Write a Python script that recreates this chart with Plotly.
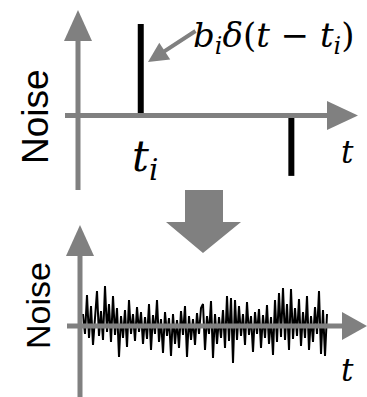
import plotly.graph_objects as go

# ---- data ----
spike_times = [2.5, 8.5]          # t_i
spike_amps = [1.0, -0.66]         # b_i
noise = [12, -8, 31, -12, 20, -19, 8, 35, -10, 15,
         -14, 40, -6, 22, -16, 30, -9, 18, -31, 10,
         -12, 16, -21, 26, -8, 12, -15, 19, -6, 14,
         -18, 9, -13, 22, -24, 11, -8, 26, -16, 7,
         -27, 14, -10, 8, -30, 12, -18, 6, -22, 15,
         -9, 20, -31, 10, -14, 7, -19, 13, -8, 18,
         22, -24, 10, -8, 25, -32, 12, -18, 9, -12,
         16, -22, 30, -15, 28, -37, 26, -14, 20, -10,
         12, -19, 24, -9, 10, -26, 14, -8, 17, -22,
         11, -12, 21, -18, 9, -29, 26, -16, 33, -11,
         38, -14, 22, -24, 37, -13, 18, -10, 27, -20,
         14, -12, 30, -24, 10, -16, 19, -8, 35, -28,
         16, -30, 12]
noise_t = list(range(len(noise)))

W, H = 367, 397
GRAY = "#808080"

def P(px, py):
    return px / W, 1 - py / H

fig = go.Figure()

# top panel: impulses
sx, sy = [], []
for t, b in zip(spike_times, spike_amps):
    sx += [t, t, None]
    sy += [0, b, None]
fig.add_trace(go.Scatter(x=sx, y=sy, mode="lines", line=dict(color="black", width=6),
                         xaxis="x", yaxis="y", showlegend=False, hoverinfo="skip"))
# bottom panel: noise
fig.add_trace(go.Scatter(x=noise_t, y=noise, mode="lines", line=dict(color="black", width=2),
                         xaxis="x2", yaxis="y2", showlegend=False, hoverinfo="skip"))

# axis geometry (pixels)
top_ox, top_oy, kx_top, ky_top = 78, 115.5, 25.1, 91.5
bot_ox, bot_oy = 83, 326

shapes = []
def line(x0, y0, x1, y1, w=5):
    a, b = P(x0, y0); c, d = P(x1, y1)
    shapes.append(dict(type="line", xref="paper", yref="paper", x0=a, y0=b, x1=c, y1=d,
                       line=dict(color=GRAY, width=w), layer="above"))
def poly(pts):
    path = "M " + " L ".join(f"{P(x, y)[0]:.5f},{P(x, y)[1]:.5f}" for x, y in pts) + " Z"
    shapes.append(dict(type="path", xref="paper", yref="paper", path=path,
                       fillcolor=GRAY, line=dict(width=0), layer="above"))

# top axes
line(78, 190, 78, 38)
poly([(64, 41), (92, 41), (78, 10)])
line(65, 115.5, 329, 115.5)
poly([(327, 101), (327, 130), (358, 115.5)])
# bottom axes
line(80, 397, 80, 253)
poly([(66, 256), (94, 256), (80, 225)])
line(67, 326, 344, 326)
poly([(342, 312), (342, 340), (367, 326)])
# big down arrow
poly([(185, 190), (223, 190), (223, 222), (241, 222), (203, 253), (166, 222), (185, 222)])

def ann(text, px, py, size, family, angle=0):
    x, y = P(px, py)
    return dict(text=text, x=x, y=y, xref="paper", yref="paper", showarrow=False,
                xanchor="center", yanchor="middle", textangle=angle,
                font=dict(size=size, family=family, color="black"))

SERIF = "DejaVu Serif"
annotations = [
    ann("Noise", 35, 117, 37, "Liberation Sans, Arial", -90),
    ann("Noise", 38, 306, 34, "Liberation Sans, Arial", -90),
    ann("<i>t</i><sub><i>i</i></sub>", 145, 160, 42, SERIF),
    ann("<i>t</i>", 347, 152, 31, SERIF),
    ann("<i>t</i>", 347, 370, 31, SERIF),
    ann("<i>b</i><sub><i>i</i></sub><i>δ</i>(<i>t</i> − <i>t</i><sub><i>i</i></sub>)", 273, 37, 34, SERIF),
]
tx, ty = P(148, 62)
annotations.append(dict(text="", x=tx, y=ty, xref="paper", yref="paper", showarrow=True,
                        ax=49, ay=-32, axref="pixel", ayref="pixel",
                        arrowhead=2, arrowsize=1, arrowwidth=4, arrowcolor=GRAY))

fig.update_layout(
    width=W, height=H, margin=dict(l=0, r=0, t=0, b=0),
    paper_bgcolor="white", plot_bgcolor="white",
    xaxis=dict(domain=[0, 1], range=[-top_ox / kx_top, (W - top_ox) / kx_top], visible=False),
    yaxis=dict(domain=[0, 1], range=[-(H - top_oy) / ky_top, top_oy / ky_top], visible=False),
    xaxis2=dict(domain=[0, 1], range=[-bot_ox / 2, (W - bot_ox) / 2], visible=False,
                overlaying="x", anchor="y2"),
    yaxis2=dict(domain=[0, 1], range=[-(H - bot_oy), bot_oy], visible=False,
                overlaying="y", anchor="x2"),
    shapes=shapes, annotations=annotations,
)
fig.write_html("out.html", config={"displayModeBar": False},
               post_script="document.body.style.margin='0';")
